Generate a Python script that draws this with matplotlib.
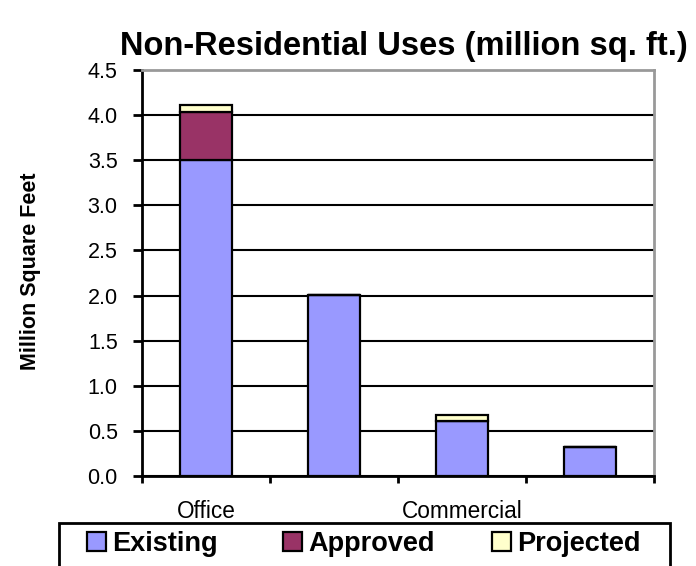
#!/usr/bin/env python3

import numpy as np
import matplotlib.pyplot as plt
from matplotlib.patches import Rectangle

plt.rcParams["font.family"] = ["Liberation Sans", "DejaVu Sans"]

# Stacked non-residential floor area, million sq. ft.
categories = ["Office", "", "Commercial", ""]
existing = [3.50, 2.01, 0.61, 0.32]
approved = [0.53, 0.0, 0.0, 0.0]
projected = [0.08, 0.0, 0.07, 0.0]

series_names = ["Existing", "Approved", "Projected"]
series_colors = ["#9999ff", "#993366", "#ffffcc"]

W, H = 696, 566


def fx(px):
    return px / W


def fy(py):
    return 1 - py / H


def main():
    fig = plt.figure(figsize=(W / 100, H / 100), dpi=100)
    ax = fig.add_axes([fx(142), fy(476), 512 / W, 406 / H])

    x = np.arange(len(categories))
    bottom = np.zeros(len(categories))
    handles = []
    for name, values, color in zip(series_names, [existing, approved, projected], series_colors):
        vals = np.array(values)
        bars = ax.bar(
            x,
            vals,
            width=0.4,
            bottom=bottom,
            color=color,
            edgecolor="black",
            linewidth=1.6,
            label=name,
            zorder=3,
        )
        handles.append(bars)
        bottom += vals

    ax.set_xlim(-0.5, len(categories) - 0.5)
    ax.set_ylim(0, 4.5)
    yticks = np.arange(0, 4.51, 0.5)
    ax.set_yticks(yticks)
    ax.set_yticklabels([f"{v:.1f}" for v in yticks], fontsize=15.5)
    ax.yaxis.grid(True, color="black", linewidth=1.5, zorder=0)
    ax.get_ygridlines()[-1].set_visible(False)

    # category boundary ticks below the axis, labels centered under bars
    ax.set_xticks(np.arange(-0.5, len(categories), 1.0))
    ax.set_xticklabels([])
    ax.set_xticks(x, minor=True)
    ax.set_xticklabels(categories, minor=True, fontsize=16.3)
    ax.tick_params(axis="x", which="minor", length=0, pad=17)
    ax.tick_params(axis="x", which="major", length=5, width=2, direction="out")
    ax.tick_params(axis="y", length=6.5, width=2, direction="out", pad=11)

    for side in ["left", "bottom"]:
        ax.spines[side].set_linewidth(2)
        ax.spines[side].set_color("black")
    for side in ["top", "right"]:
        ax.spines[side].set_linewidth(2)
        ax.spines[side].set_color("#999999")

    fig.text(
        fx(30.5),
        fy(271),
        "Million Square Feet",
        fontsize=15.5,
        fontweight="bold",
        rotation=90,
        ha="center",
        va="center",
    )
    fig.text(
        fx(404),
        fy(46),
        "Non-Residential Uses (million sq. ft.)",
        fontsize=23.5,
        fontweight="bold",
        ha="center",
        va="center",
    )

    # legend box runs off the bottom edge
    fig.patches.append(
        Rectangle(
            (fx(59), fy(600)),
            fx(670) - fx(59),
            fy(523) - fy(600),
            transform=fig.transFigure,
            facecolor="white",
            edgecolor="black",
            linewidth=2,
        )
    )
    for handle, name, left in zip(handles, series_names, [87, 283, 492]):
        fig.legend(
            handles=[handle],
            labels=[name],
            loc="center left",
            bbox_to_anchor=(fx(left), fy(544)),
            frameon=False,
            prop={"weight": "bold", "size": 19.5},
            handlelength=0.7,
            handleheight=0.7,
            handletextpad=0.22,
            borderpad=0,
            borderaxespad=0,
        )

    fig.savefig("out.png", dpi=100)
    plt.close(fig)


if __name__ == "__main__":
    main()
